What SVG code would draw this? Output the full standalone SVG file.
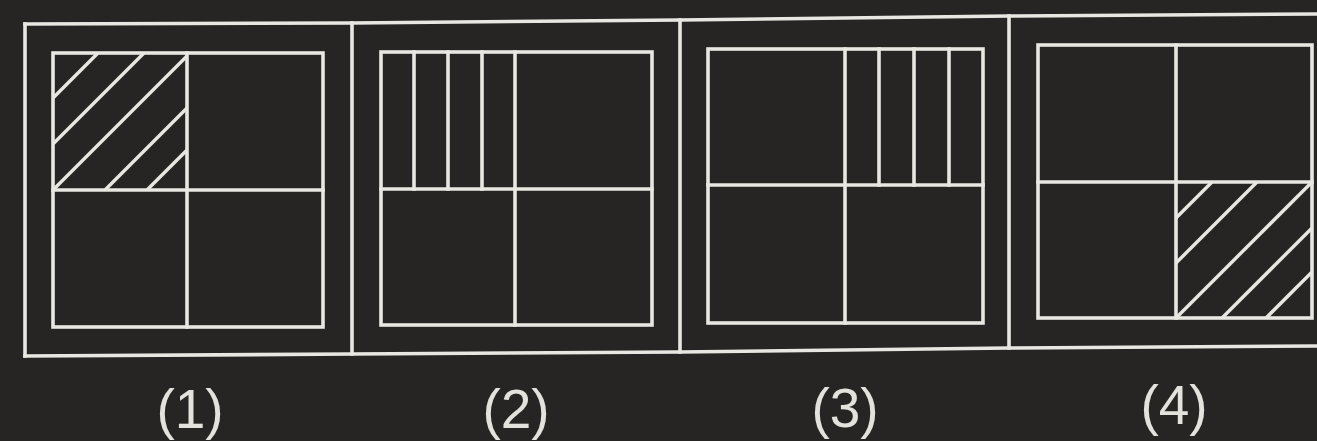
<svg xmlns="http://www.w3.org/2000/svg" width="1317" height="441" viewBox="0 0 1317 441">
<style>
.ln{fill:none;stroke:#e9e7e1;stroke-width:3.6;stroke-linecap:square}
.hs{fill:none;stroke:#e9e7e1;stroke-width:3.4;stroke-linecap:butt}
.lbl{font-family:"Liberation Sans",Arial,sans-serif;font-size:55px;fill:#e4e2dc;text-anchor:middle}
</style>
<rect width="1317" height="441" fill="#272523"/>
<g id="frame">
<polyline class="ln" points="25,24 352,23 680,20 1009,16 1320,14"/>
<polyline class="ln" points="25,356 352,354 680,352 1009,348 1320,346"/>
<line class="ln" x1="25" y1="24" x2="25" y2="356"/>
<line class="ln" x1="352" y1="23" x2="352" y2="354"/>
<line class="ln" x1="680" y1="20" x2="680" y2="352"/>
<line class="ln" x1="1009" y1="16" x2="1009" y2="348"/>
</g>
<g id="panel1">
<rect class="ln" x="53" y="53" width="270" height="274"/>
<line class="ln" x1="187" y1="53" x2="187" y2="327"/>
<line class="ln" x1="53" y1="190" x2="323" y2="190"/>
<g class="hs">
<line x1="53" y1="98" x2="98" y2="53"/>
<line x1="53" y1="144" x2="144" y2="53"/>
<line x1="53" y1="190" x2="187" y2="56"/>
<line x1="105" y1="190" x2="187" y2="108"/>
<line x1="147" y1="190" x2="187" y2="150"/>
</g>
<text class="lbl" x="190" y="428">(1)</text>
</g>
<g id="panel2">
<rect class="ln" x="381" y="52" width="271" height="273"/>
<line class="ln" x1="515" y1="52" x2="515" y2="325"/>
<line class="ln" x1="381" y1="189" x2="652" y2="189"/>
<line class="ln" x1="414" y1="52" x2="414" y2="189"/>
<line class="ln" x1="448" y1="52" x2="448" y2="189"/>
<line class="ln" x1="482" y1="52" x2="482" y2="189"/>
<text class="lbl" x="516" y="428">(2)</text>
</g>
<g id="panel3">
<rect class="ln" x="708" y="49" width="275" height="274"/>
<line class="ln" x1="845" y1="49" x2="845" y2="323"/>
<line class="ln" x1="708" y1="185" x2="983" y2="185"/>
<line class="ln" x1="879" y1="49" x2="879" y2="185"/>
<line class="ln" x1="914" y1="49" x2="914" y2="185"/>
<line class="ln" x1="949" y1="49" x2="949" y2="185"/>
<text class="lbl" x="845" y="427">(3)</text>
</g>
<g id="panel4">
<rect class="ln" x="1038" y="45" width="274" height="273"/>
<line class="ln" x1="1176" y1="45" x2="1176" y2="318"/>
<line class="ln" x1="1038" y1="182" x2="1312" y2="182"/>
<g class="hs">
<line x1="1176" y1="218" x2="1212" y2="182"/>
<line x1="1176" y1="263" x2="1257" y2="182"/>
<line x1="1176" y1="318" x2="1312" y2="182"/>
<line x1="1222" y1="318" x2="1312" y2="228"/>
<line x1="1266" y1="318" x2="1312" y2="272"/>
</g>
<text class="lbl" x="1174" y="424">(4)</text>
</g>
</svg>
